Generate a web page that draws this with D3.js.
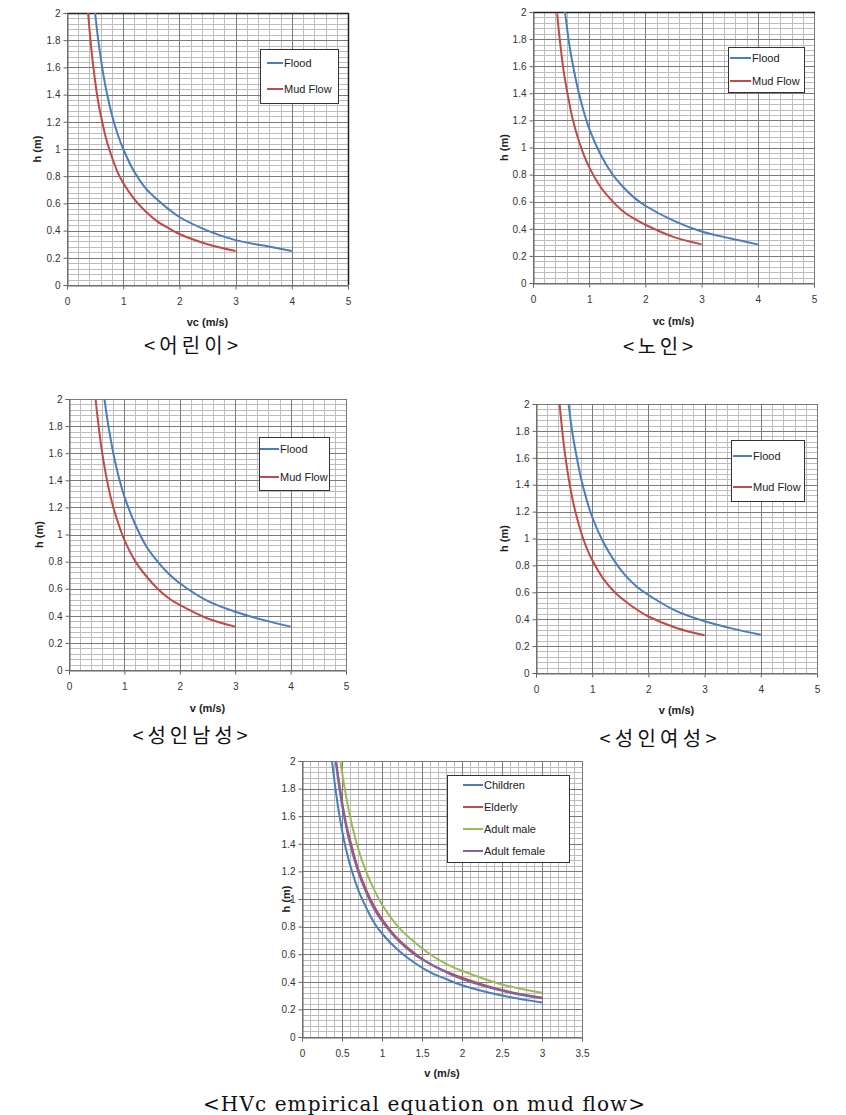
<!DOCTYPE html>
<html><head><meta charset="utf-8">
<script src="https://cdn.jsdelivr.net/npm/d3@7"></script>
<style>
body{margin:0;background:#fff;}
svg{display:block;}
</style></head>
<body>
<svg id="c" width="846" height="1115"></svg>
<script>
// ---------- DATA ----------
const yTicks = [0,0.2,0.4,0.6,0.8,1,1.2,1.4,1.6,1.8,2];
const xTicks5 = [0,1,2,3,4,5];
const xTicks35 = [0,0.5,1,1.5,2,2.5,3,3.5];

const childFloodV = [0.5,0.55,0.6,0.65,0.7,0.8,0.9,1,1.2,1.4,1.6,1.8,2,2.5,3,3.5,4];
const childFloodH = [2,1.82,1.67,1.54,1.43,1.25,1.11,1.0,0.83,0.71,0.63,0.56,0.5,0.4,0.33,0.29,0.25];
const childMudV = [0.375,0.4,0.45,0.5,0.55,0.6,0.7,0.8,0.9,1,1.2,1.4,1.6,1.8,2,2.5,3];
const childMudH = [2,1.88,1.67,1.5,1.36,1.25,1.07,0.94,0.83,0.75,0.63,0.54,0.47,0.42,0.375,0.3,0.25];

const elderFloodV = [0.57,0.6,0.65,0.7,0.8,0.9,1,1.2,1.4,1.6,1.8,2,2.5,3,3.5,4];
const elderFloodH = [2,1.9,1.75,1.63,1.43,1.27,1.14,0.95,0.81,0.71,0.63,0.57,0.46,0.38,0.33,0.285];
const elderMudV = [0.43,0.45,0.5,0.55,0.6,0.7,0.8,0.9,1,1.2,1.4,1.6,1.8,2,2.5,3];
const elderMudH = [1.99,1.9,1.71,1.55,1.43,1.22,1.07,0.95,0.855,0.71,0.61,0.53,0.475,0.43,0.34,0.285];

const maleFloodV = [0.64,0.7,0.75,0.8,0.9,1,1.2,1.4,1.6,1.8,2,2.5,3,3.5,4];
const maleFloodH = [2,1.83,1.71,1.6,1.42,1.28,1.07,0.91,0.8,0.71,0.64,0.51,0.43,0.37,0.32];
const maleMudV = [0.48,0.5,0.55,0.6,0.7,0.8,0.9,1,1.2,1.4,1.6,1.8,2,2.5,3];
const maleMudH = [2,1.92,1.75,1.6,1.37,1.2,1.07,0.96,0.8,0.69,0.6,0.53,0.48,0.38,0.32];

const femaleFloodV = [0.58,0.6,0.65,0.7,0.8,0.9,1,1.2,1.4,1.6,1.8,2,2.5,3,3.5,4];
const femaleFloodH = [2,1.93,1.78,1.66,1.45,1.29,1.16,0.97,0.83,0.72,0.64,0.58,0.46,0.385,0.33,0.285];
const femaleMudV = [0.42,0.45,0.5,0.55,0.6,0.7,0.8,0.9,1,1.2,1.4,1.6,1.8,2,2.5,3];
const femaleMudH = [2,1.87,1.68,1.53,1.4,1.2,1.05,0.93,0.84,0.7,0.6,0.53,0.47,0.42,0.335,0.28];

const pairSeries = ["Flood","Mud Flow"];
const groupSeries = ["Children","Elderly","Adult male","Adult female"];
const captions = ["<어린이>","<노인>","<성인남성>","<성인여성>","<HVc empirical equation on mud flow>"];
const xTitles = ["vc (m/s)","vc (m/s)","v (m/s)","v (m/s)","v (m/s)"];

// ---------- STYLE ----------
const BLUE="#4a7ebb", RED="#be4b48", GREEN="#9bbb59", PURPLE="#8064a2";
const svg = d3.select("#c");
const zip = (vs,hs)=>vs.map((v,i)=>[v,hs[i]]);
const FONT = "Liberation Sans, Arial, sans-serif";

function panel(o){
  const g = svg.append("g");
  const x = d3.scaleLinear().domain([0,o.xmax]).range([o.x0,o.x1]);
  const y = d3.scaleLinear().domain([0,2]).range([o.y1,o.y0]);
  const xm = d3.range(0, Math.round(o.xmax/o.xminor)+1).map(i=>i*o.xminor);
  const ym = d3.range(0, 51).map(i=>i*0.04);
  g.selectAll(".vx").data(xm).join("line")
    .attr("x1",d=>Math.round(x(d))+0.5).attr("x2",d=>Math.round(x(d))+0.5)
    .attr("y1",o.y0).attr("y2",o.y1).attr("stroke","#bdbdbd").attr("stroke-width",1);
  g.selectAll(".hy").data(ym).join("line")
    .attr("y1",d=>Math.round(y(d))+0.5).attr("y2",d=>Math.round(y(d))+0.5)
    .attr("x1",o.x0).attr("x2",o.x1).attr("stroke","#bdbdbd").attr("stroke-width",1);
  g.selectAll(".mx").data(o.xticks).join("line")
    .attr("x1",d=>Math.round(x(d))+0.5).attr("x2",d=>Math.round(x(d))+0.5)
    .attr("y1",o.y0).attr("y2",o.y1).attr("stroke","#7a7a7a").attr("stroke-width",1);
  g.selectAll(".my").data(yTicks).join("line")
    .attr("y1",d=>Math.round(y(d))+0.5).attr("y2",d=>Math.round(y(d))+0.5)
    .attr("x1",o.x0).attr("x2",o.x1).attr("stroke","#7a7a7a").attr("stroke-width",1);
  if(o.topDark){
    g.append("line").attr("x1",o.x0).attr("x2",o.x1+1).attr("y1",o.y0+0.5).attr("y2",o.y0+0.5)
      .attr("stroke","#222").attr("stroke-width",1.5);
  }
  if(o.rightDark){
    g.append("line").attr("x1",o.x1+0.5).attr("x2",o.x1+0.5).attr("y1",o.y0).attr("y2",o.y1)
      .attr("stroke","#222").attr("stroke-width",1.5);
  }
  const ay = g.append("g").attr("transform",`translate(${o.x0+0.5},0)`)
    .call(d3.axisLeft(y).tickValues(yTicks).tickSize(4).tickFormat(d=>String(d)));
  const ax = g.append("g").attr("transform",`translate(0,${Math.round(o.y1)+0.5})`)
    .call(d3.axisBottom(x).tickValues(o.xticks).tickSize(4).tickFormat(d=>String(d)));
  [ax,ay].forEach(a=>{
    a.select(".domain").attr("stroke","#666");
    a.selectAll(".tick line").attr("stroke","#666");
    a.selectAll("text").attr("font-family",FONT).attr("font-size",10).attr("fill","#333");
  });
  ax.selectAll("text").attr("dy","1.25em");
  g.append("text").attr("x",(o.x0+o.x1)/2).attr("y",o.xtY)
    .attr("text-anchor","middle").attr("font-family",FONT)
    .attr("font-weight","bold").attr("font-size",11).attr("fill","#222").text(o.xtitle);
  g.append("text").attr("transform",`translate(${o.ytX},${(o.y0+o.y1)/2}) rotate(-90)`)
    .attr("text-anchor","middle").attr("font-family",FONT)
    .attr("font-weight","bold").attr("font-size",11).attr("fill","#222").text("h (m)");
  const line = d3.line().x(d=>x(d[0])).y(d=>y(d[1])).curve(d3.curveCatmullRom.alpha(0.5));
  o.series.forEach(s=>{
    g.append("path").datum(s.pts).attr("d",line).attr("fill","none")
      .attr("stroke",s.color).attr("stroke-width",2);
  });
  const L = o.legend;
  g.append("rect").attr("x",L.x+0.5).attr("y",L.y+0.5).attr("width",L.w).attr("height",L.h)
    .attr("fill","#fff").attr("stroke","#333").attr("stroke-width",1);
  o.series.forEach((s,i)=>{
    const yy = L.y + L.first + i*L.step;
    g.append("line").attr("x1",L.x+L.lx0).attr("x2",L.x+L.lx1).attr("y1",yy).attr("y2",yy)
      .attr("stroke",s.color).attr("stroke-width",2);
    g.append("text").attr("x",L.x+L.lx1+1).attr("y",yy).attr("dy","0.35em")
      .attr("font-family",FONT).attr("font-size",L.fs)
      .attr("fill","#222").text(s.name);
  });
  const cap = svg.append("text").attr("x",o.capX).attr("y",o.capY).attr("text-anchor","middle")
    .attr("font-family",o.capFont).attr("font-size",20).attr("fill","#111").text(o.caption);
  if(o.capLen) cap.attr("textLength",o.capLen).attr("lengthAdjust","spacing");
}

const korFont = "'Noto Sans CJK KR', sans-serif";
panel({x0:67,x1:348,y0:13,y1:285,xmax:5,xminor:0.2,xticks:xTicks5,topDark:true,rightDark:true,
  xtitle:xTitles[0],xtY:326,ytX:41,caption:captions[0],capX:191,capY:353,capFont:korFont,capLen:94,
  series:[{name:pairSeries[0],color:BLUE,pts:zip(childFloodV,childFloodH)},
          {name:pairSeries[1],color:RED,pts:zip(childMudV,childMudH)}],
  legend:{x:260,y:49,w:78,h:54,first:14,step:26,lx0:7,lx1:23,fs:11}});
panel({x0:533,x1:814,y0:12,y1:283,xmax:5,xminor:0.2,xticks:xTicks5,topDark:true,rightDark:false,
  xtitle:xTitles[1],xtY:325,ytX:508,caption:captions[1],capX:658,capY:354,capFont:korFont,capLen:70,
  series:[{name:pairSeries[0],color:BLUE,pts:zip(elderFloodV,elderFloodH)},
          {name:pairSeries[1],color:RED,pts:zip(elderMudV,elderMudH)}],
  legend:{x:728,y:47,w:76,h:45,first:11,step:23,lx0:2,lx1:23,fs:11}});
panel({x0:69,x1:346,y0:399,y1:670,xmax:5,xminor:0.2,xticks:xTicks5,topDark:false,rightDark:false,
  xtitle:xTitles[2],xtY:712,ytX:43,caption:captions[2],capX:190,capY:743,capFont:korFont,capLen:115,
  series:[{name:pairSeries[0],color:BLUE,pts:zip(maleFloodV,maleFloodH)},
          {name:pairSeries[1],color:RED,pts:zip(maleMudV,maleMudH)}],
  legend:{x:259,y:437,w:70,h:53,first:12,step:28,lx0:1,lx1:20,fs:11}});
panel({x0:536,x1:817,y0:404,y1:673,xmax:5,xminor:0.2,xticks:xTicks5,topDark:false,rightDark:false,
  xtitle:xTitles[3],xtY:714,ytX:508,caption:captions[3],capX:658,capY:746,capFont:korFont,capLen:117,
  series:[{name:pairSeries[0],color:BLUE,pts:zip(femaleFloodV,femaleFloodH)},
          {name:pairSeries[1],color:RED,pts:zip(femaleMudV,femaleMudH)}],
  legend:{x:731,y:440,w:73,h:61,first:16,step:31,lx0:2,lx1:21,fs:11}});
panel({x0:302,x1:582,y0:761,y1:1037,xmax:3.5,xminor:0.1,xticks:xTicks35,topDark:false,rightDark:false,
  xtitle:xTitles[4],xtY:1077,ytX:290,caption:captions[4],capX:424,capY:1111,
  capFont:"'DejaVu Serif', serif",capLen:442,
  series:[{name:groupSeries[0],color:BLUE,pts:zip(childMudV,childMudH)},
          {name:groupSeries[1],color:RED,pts:zip(elderMudV,elderMudH)},
          {name:groupSeries[2],color:GREEN,pts:zip(maleMudV,maleMudH)},
          {name:groupSeries[3],color:PURPLE,pts:zip(femaleMudV,femaleMudH)}],
  legend:{x:447,y:775,w:122,h:87,first:10,step:22,lx0:16,lx1:36,fs:11}});
</script>
</body></html>
